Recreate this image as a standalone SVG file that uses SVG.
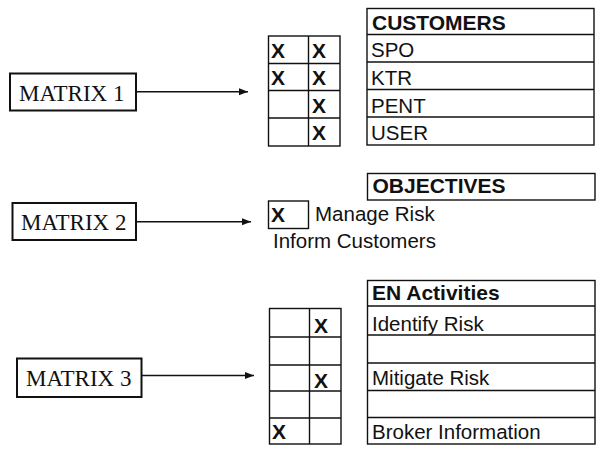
<svg xmlns="http://www.w3.org/2000/svg" width="597" height="451" viewBox="0 0 597 451">
<style>
.bg{fill:#fff}
.mbox{fill:none;stroke:#111;stroke-width:2}
.tbl{fill:none;stroke:#111;stroke-width:1.4}
.mlabel{font-family:"Liberation Serif","Times New Roman",serif;font-size:23px;fill:#111}
.hdr{font-family:"Liberation Sans",Arial,sans-serif;font-size:21px;font-weight:bold;fill:#111}
.txt{font-family:"Liberation Sans",Arial,sans-serif;font-size:20.5px;fill:#111}
.x{font-family:"Liberation Sans",Arial,sans-serif;font-size:21px;font-weight:bold;fill:#111}
.conn{stroke:#111;stroke-width:1.4;fill:none}
</style>
<defs>
<marker id="arr" markerWidth="10" markerHeight="8" refX="9" refY="4" orient="auto" markerUnits="userSpaceOnUse">
<path d="M0,0.5 L9,4 L0,7.5 Z" fill="#111"/>
</marker>
</defs>
<rect class="bg" x="0" y="0" width="597" height="451"/>

<g id="matrix1">
<rect class="mbox" x="10" y="73.5" width="126" height="37"/>
<text class="mlabel" x="19" y="100.5">MATRIX 1</text>
</g>
<g id="matrix2">
<rect class="mbox" x="12.5" y="203" width="123.5" height="37"/>
<text class="mlabel" x="21" y="230">MATRIX 2</text>
</g>
<g id="matrix3">
<rect class="mbox" x="17" y="358.5" width="124.5" height="38.5"/>
<text class="mlabel" x="26" y="386">MATRIX 3</text>
</g>

<g id="connectors">
<line class="conn" x1="136" y1="91.7" x2="248" y2="91.7" marker-end="url(#arr)"/>
<line class="conn" x1="136" y1="221.7" x2="251" y2="221.7" marker-end="url(#arr)"/>
<line class="conn" x1="141.5" y1="375.5" x2="254" y2="375.5" marker-end="url(#arr)"/>
</g>

<g id="grid1">
<rect class="tbl" x="268.5" y="36" width="71.5" height="110"/>
<line class="tbl" x1="308.5" y1="36" x2="308.5" y2="146"/>
<line class="tbl" x1="268.5" y1="63.5" x2="340" y2="63.5"/>
<line class="tbl" x1="268.5" y1="90.5" x2="340" y2="90.5"/>
<line class="tbl" x1="268.5" y1="118" x2="340" y2="118"/>
<text class="x" x="271" y="57.5">X</text>
<text class="x" x="312" y="57.5">X</text>
<text class="x" x="271" y="85">X</text>
<text class="x" x="312" y="85">X</text>
<text class="x" x="312" y="112.5">X</text>
<text class="x" x="312" y="140">X</text>
</g>

<g id="customers">
<rect class="tbl" x="367" y="8.5" width="227" height="136.5"/>
<line class="tbl" x1="367" y1="34.5" x2="594" y2="34.5"/>
<line class="tbl" x1="367" y1="62" x2="594" y2="62"/>
<line class="tbl" x1="367" y1="89.5" x2="594" y2="89.5"/>
<line class="tbl" x1="367" y1="117" x2="594" y2="117"/>
<text class="hdr" x="372" y="29.5">CUSTOMERS</text>
<text class="txt" x="371" y="57">SPO</text>
<text class="txt" x="371" y="85">KTR</text>
<text class="txt" x="371" y="112.5">PENT</text>
<text class="txt" x="371" y="140">USER</text>
</g>

<g id="objectives">
<rect class="tbl" x="367.5" y="173.5" width="227.5" height="26.5"/>
<text class="hdr" x="372.5" y="193">OBJECTIVES</text>
<rect class="tbl" x="268.5" y="201" width="40" height="27.5"/>
<text class="x" x="271" y="222">X</text>
<text class="txt" x="315" y="221">Manage Risk</text>
<text class="txt" x="273" y="248">Inform Customers</text>
</g>

<g id="grid3">
<rect class="tbl" x="269.5" y="308.5" width="71.5" height="135.5"/>
<line class="tbl" x1="309.5" y1="308.5" x2="309.5" y2="444"/>
<line class="tbl" x1="269.5" y1="337" x2="341" y2="337"/>
<line class="tbl" x1="269.5" y1="365" x2="341" y2="365"/>
<line class="tbl" x1="269.5" y1="391" x2="341" y2="391"/>
<line class="tbl" x1="269.5" y1="418" x2="341" y2="418"/>
<text class="x" x="314" y="333">X</text>
<text class="x" x="314" y="388">X</text>
<text class="x" x="272" y="438.5">X</text>
</g>

<g id="activities">
<rect class="tbl" x="367.5" y="280.5" width="227.5" height="163.5"/>
<line class="tbl" x1="367.5" y1="306" x2="595" y2="306"/>
<line class="tbl" x1="367.5" y1="335" x2="595" y2="335"/>
<line class="tbl" x1="367.5" y1="363" x2="595" y2="363"/>
<line class="tbl" x1="367.5" y1="390.5" x2="595" y2="390.5"/>
<line class="tbl" x1="367.5" y1="417.5" x2="595" y2="417.5"/>
<text class="hdr" x="372" y="299.5">EN Activities</text>
<text class="txt" x="372" y="331">Identify Risk</text>
<text class="txt" x="372" y="385">Mitigate Risk</text>
<text class="txt" x="372" y="438.5">Broker Information</text>
</g>
</svg>
